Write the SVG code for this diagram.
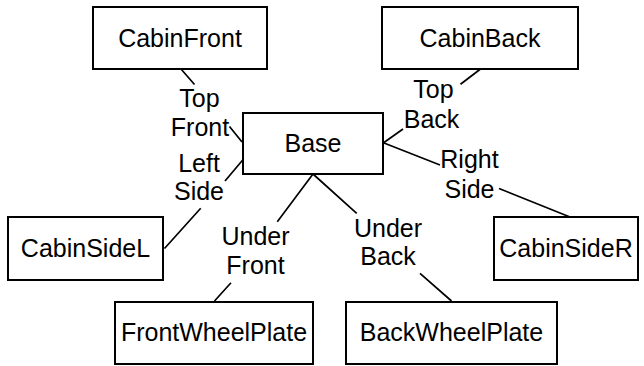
<svg xmlns="http://www.w3.org/2000/svg" width="644" height="366" viewBox="0 0 644 366">
<style>
.box{fill:#fff;stroke:#000;stroke-width:2}
.t{font-family:"Liberation Sans",Arial,sans-serif;font-size:25px;fill:#000;text-anchor:middle}
.e{stroke:#000;stroke-width:1.7;fill:none}
</style>
<rect width="644" height="366" fill="#fff"/>
<g id="edges">
<path class="e" d="M181 69L194.5 84.5M229.5 126.5L242 142"/>
<path class="e" d="M242.7 160L225 181M200.7 208.3L164.5 248.5"/>
<path class="e" d="M480.5 69L460.5 84.3M403 129L384 142.5"/>
<path class="e" d="M384 143L440 165M499 188.5L570 217"/>
<path class="e" d="M313 174L277.3 221.7M231 282.7L214.5 301"/>
<path class="e" d="M313 174L356.7 213.3M420 273.3L451.5 301"/>
<g class="t">
<text x="199.5" y="106.7">Top</text><text x="200" y="136">Front</text>
<text x="199" y="171.7">Left</text><text x="199" y="200">Side</text>
<text x="433.5" y="97.7">Top</text><text x="431.5" y="128.3">Back</text>
<text x="469.5" y="168.3">Right</text><text x="469.5" y="198.3">Side</text>
<text x="255.5" y="245">Under</text><text x="255.5" y="274">Front</text>
<text x="388" y="236.7">Under</text><text x="388" y="265">Back</text>
</g>
</g>
<g id="CabinFront"><rect class="box" x="93" y="7" width="174" height="62"/><text class="t" x="180" y="47">CabinFront</text></g>
<g id="CabinBack"><rect class="box" x="382" y="7" width="196" height="62"/><text class="t" x="480" y="47">CabinBack</text></g>
<g id="Base"><rect class="box" x="243" y="113" width="140" height="61"/><text class="t" x="313" y="152">Base</text></g>
<g id="CabinSideL"><rect class="box" x="8" y="217" width="155" height="63"/><text class="t" x="85.5" y="257">CabinSideL</text></g>
<g id="CabinSideR"><rect class="box" x="494" y="217" width="144" height="63"/><text class="t" x="566" y="257">CabinSideR</text></g>
<g id="FrontWheelPlate"><rect class="box" x="115" y="302" width="198" height="62"/><text class="t" x="214" y="341">FrontWheelPlate</text></g>
<g id="BackWheelPlate"><rect class="box" x="346" y="302" width="211" height="62"/><text class="t" x="451.5" y="341">BackWheelPlate</text></g>
</svg>
